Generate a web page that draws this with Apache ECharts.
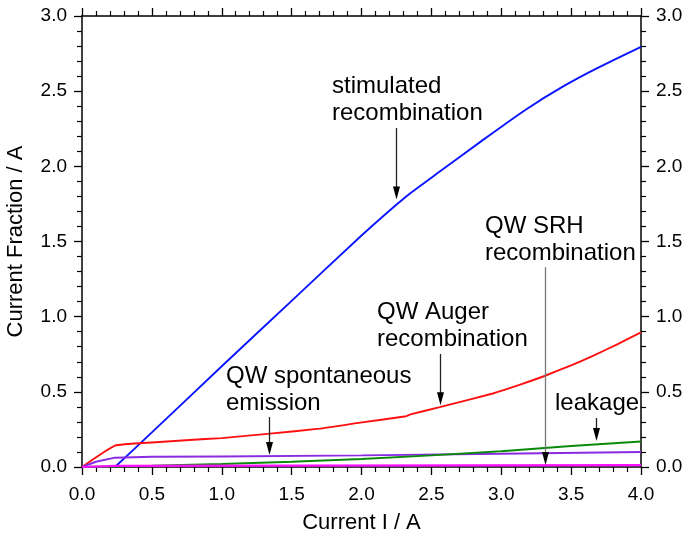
<!DOCTYPE html>
<html>
<head>
<meta charset="utf-8">
<script src="https://cdn.jsdelivr.net/npm/echarts@6/dist/echarts.min.js"></script>
<style>
  html, body { margin: 0; padding: 0; background: #fff; }
  #chart { width: 684px; height: 538px; }
</style>
</head>
<body>
<div id="chart"></div>
<script>
// values (current I in A, current fraction in A)
const stimI = [0.236, 0.5, 1.0, 1.5, 2.0, 2.32, 2.56, 2.87, 3.18, 3.44, 3.68, 4.0]
const stimF = [0, 0.23, 0.67, 1.105, 1.54, 1.80, 1.965, 2.176, 2.38, 2.53, 2.65, 2.795]

const augerI = [0, 0.236, 0.5, 0.77, 1.0, 1.345, 1.7, 1.99, 2.32, 2.35, 2.56, 2.94, 3.13, 3.3, 3.5, 3.66, 3.83, 4.0]
const augerF = [0, 0.142, 0.163, 0.18, 0.192, 0.222, 0.255, 0.295, 0.338, 0.35, 0.398, 0.489, 0.546, 0.602, 0.676, 0.741, 0.816, 0.896]

const spontI = [0, 0.1, 0.236, 0.5, 1.0, 2.0, 3.0, 4.0]
const spontF = [0, 0.035, 0.062, 0.068, 0.07, 0.077, 0.088, 0.10]

const leakI = [0, 0.5, 1.0, 1.5, 2.0, 2.5, 3.0, 3.5, 4.0]
const leakF = [0, 0.008, 0.02, 0.035, 0.053, 0.077, 0.105, 0.14, 0.17]

const srhI = [0, 0.236, 4.0]
const srhF = [0, 0.008, 0.012]

// annotation arrows: x position, start and end fraction
const arrowI = [2.247, 3.313, 2.562, 1.338, 3.678]
const arrowFrom = [2.255, 1.33, 0.752, 0.333, 0.326]
const arrowTo = [1.78, 0.013, 0.41, 0.08, 0.173]
const arrowColors = ['#222', '#777', '#222', '#222', '#222']

const FONT = '"Liberation Sans", Arial, sans-serif'

const pairs = (xs, ys) => xs.map((x, i) => [x, ys[i]])

const chart = echarts.init(document.getElementById('chart'))

const baseX = {
  type: 'value',
  min: 0,
  max: 4,
  interval: 0.5,
  axisLine: { show: true, onZero: false, lineStyle: { color: '#000', width: 1.5 } },
  axisTick: { show: true, length: 8, lineStyle: { color: '#000', width: 1.3 } },
  minorTick: { show: true, splitNumber: 5, length: 5, lineStyle: { color: '#000', width: 1.2 } },
  splitLine: { show: false },
}
const baseY = {
  type: 'value',
  min: 0,
  max: 3,
  interval: 0.5,
  axisLine: { show: true, onZero: false, lineStyle: { color: '#000', width: 1.5 } },
  axisTick: { show: true, length: 8, lineStyle: { color: '#000', width: 1.3 } },
  minorTick: { show: true, splitNumber: 5, length: 5, lineStyle: { color: '#000', width: 1.2 } },
  splitLine: { show: false },
}
const tickLabel = {
  color: '#000',
  fontSize: 19,
  fontFamily: FONT,
  formatter: v => v.toFixed(1),
}

const lineSeries = (name, data, color, width, smooth) => ({
  name,
  type: 'line',
  data,
  showSymbol: false,
  smooth: smooth || false,
  lineStyle: { color, width },
  silent: true,
  z: 3,
})

const annotations = [
  { text: 'stimulated\nrecombination', left: 332, top: 73 },
  { text: 'QW SRH\nrecombination', left: 485, top: 213 },
  { text: 'QW Auger\nrecombination', left: 377, top: 299 },
  { text: 'QW spontaneous\nemission', left: 226, top: 363 },
  { text: 'leakage', left: 555, top: 390 },
]

chart.setOption({
  animation: false,
  backgroundColor: '#fff',
  grid: { left: 82, right: 43, top: 16, bottom: 71, containLabel: false, outerBoundsMode: 'none' },
  xAxis: [
    {
      ...baseX,
      position: 'bottom',
      name: 'Current I / A',
      nameLocation: 'middle',
      nameGap: 45,
      nameTextStyle: { color: '#000', fontSize: 22, fontFamily: FONT },
      axisLabel: { ...tickLabel, margin: 18 },
    },
    {
      ...baseX,
      position: 'top',
      axisLabel: { show: false },
    },
  ],
  yAxis: [
    {
      ...baseY,
      position: 'left',
      name: 'Current Fraction / A',
      nameLocation: 'middle',
      nameGap: 55,
      nameTextStyle: { color: '#000', fontSize: 22, fontFamily: FONT },
      axisLabel: { ...tickLabel, margin: 15 },
    },
    {
      ...baseY,
      position: 'right',
      axisLabel: { ...tickLabel, margin: 15 },
    },
  ],
  series: [
    lineSeries('stimulated recombination', pairs(stimI, stimF), '#0a14ff', 1.9, 0.15),
    lineSeries('QW Auger recombination', pairs(augerI, augerF), '#ff1010', 1.9, 0.12),
    lineSeries('QW spontaneous emission', pairs(spontI, spontF), '#8a2be2', 1.9),
    lineSeries('leakage', pairs(leakI, leakF), '#0a8a0a', 1.9),
    lineSeries('QW SRH recombination', pairs(srhI, srhF), '#ff10ff', 2.2),
    {
      name: 'arrows',
      type: 'custom',
      silent: true,
      clip: false,
      z: 5,
      data: arrowI.map((x, i) => [x, arrowFrom[i], arrowTo[i]]),
      renderItem: (params, api) => {
        const p0 = api.coord([api.value(0), api.value(1)])
        const p1 = api.coord([api.value(0), api.value(2)])
        const x = Math.round(p0[0]) + 0.5
        return {
          type: 'group',
          children: [
            {
              type: 'line',
              shape: { x1: x, y1: p0[1], x2: x, y2: p1[1] - 10 },
              style: { stroke: arrowColors[params.dataIndex], lineWidth: 1.3 },
            },
            {
              type: 'polygon',
              shape: { points: [[x - 3.5, p1[1] - 13], [x + 3.5, p1[1] - 13], [x, p1[1]]] },
              style: { fill: '#000' },
            },
          ],
        }
      },
    },
  ],
  graphic: annotations.map(a => ({
    type: 'text',
    left: a.left,
    top: a.top,
    silent: true,
    style: {
      text: a.text,
      fill: '#000',
      font: '24px ' + FONT,
      lineHeight: 27,
    },
  })),
})
</script>
</body>
</html>
